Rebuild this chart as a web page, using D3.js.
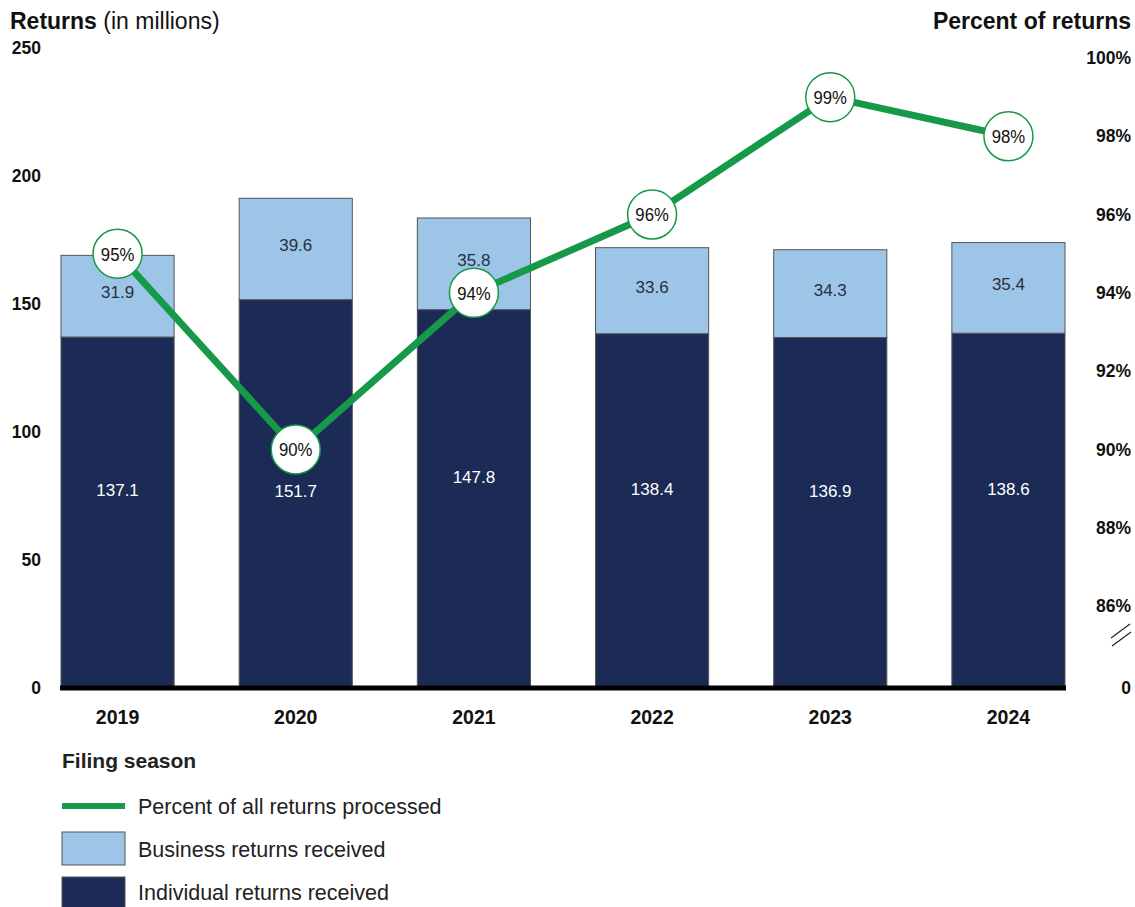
<!DOCTYPE html>
<html>
<head>
<meta charset="utf-8">
<script src="https://cdn.jsdelivr.net/npm/d3@7"></script>
<style>
  html, body { margin: 0; padding: 0; background: #ffffff; }
  svg { display: block; font-family: "Liberation Sans", Arial, sans-serif; }
</style>
</head>
<body>
<svg id="chart" width="1135" height="907"></svg>
<script>
// Filing season data
const seasons = ["2019", "2020", "2021", "2022", "2023", "2024"];
const individualReturns = [137.1, 151.7, 147.8, 138.4, 136.9, 138.6];
const businessReturns = [31.9, 39.6, 35.8, 33.6, 34.3, 35.4];
const percentProcessed = [95, 90, 94, 96, 99, 98];

const leftTicks = [0, 50, 100, 150, 200, 250];
const rightTicks = [86, 88, 90, 92, 94, 96, 98, 100];

const colors = {
  individual: "#1b2b55",
  business: "#9dc5e8",
  line: "#17994a",
  barStroke: "#555555"
};

const svg = d3.select("#chart");

const x = d3.scaleBand()
  .domain(seasons)
  .range([61, 1065])
  .paddingInner(0.365)
  .paddingOuter(0);

const y = d3.scaleLinear().domain([0, 250]).range([688, 48]);
const yPct = d3.scaleLinear().domain([86, 100]).range([606, 58]);

const cx = s => x(s) + x.bandwidth() / 2;

const rows = seasons.map((s, i) => ({
  season: s,
  ind: individualReturns[i],
  bus: businessReturns[i],
  pct: percentProcessed[i]
}));

// Stacked bars
const bars = svg.append("g");
bars.selectAll("rect.ind").data(rows).join("rect")
  .attr("x", d => x(d.season))
  .attr("width", x.bandwidth())
  .attr("y", d => y(d.ind))
  .attr("height", d => y(0) - y(d.ind))
  .attr("fill", colors.individual)
  .attr("stroke", colors.barStroke)
  .attr("stroke-width", 1);

bars.selectAll("rect.bus").data(rows).join("rect")
  .attr("x", d => x(d.season))
  .attr("width", x.bandwidth())
  .attr("y", d => y(d.ind + d.bus))
  .attr("height", d => y(d.ind) - y(d.ind + d.bus))
  .attr("fill", colors.business)
  .attr("stroke", colors.barStroke)
  .attr("stroke-width", 1);

// Individual labels sit in the lower part of the bar, stepping below a marker if they would meet it
function indLabelY(d) {
  const base = y(d.ind / 2) - 22;
  const my = yPct(d.pct);
  return Math.abs(base - my) < 38 ? my + 42 : base;
}

bars.selectAll("text.ind").data(rows).join("text")
  .attr("x", d => cx(d.season))
  .attr("y", indLabelY)
  .attr("dy", "0.35em")
  .attr("text-anchor", "middle")
  .attr("font-size", 17)
  .attr("fill", "#ffffff")
  .text(d => d.ind.toFixed(1));

bars.selectAll("text.bus").data(rows).join("text")
  .attr("x", d => cx(d.season))
  .attr("y", d => y(d.ind + d.bus / 2) - 4)
  .attr("dy", "0.35em")
  .attr("text-anchor", "middle")
  .attr("font-size", 17)
  .attr("fill", "#2a2f3d")
  .text(d => d.bus.toFixed(1));

// Baseline
svg.append("line")
  .attr("x1", 60).attr("x2", 1066)
  .attr("y1", y(0)).attr("y2", y(0))
  .attr("stroke", "#000").attr("stroke-width", 5);

// Left axis labels
svg.append("g").selectAll("text").data(leftTicks).join("text")
  .attr("x", 41)
  .attr("y", d => y(d))
  .attr("dy", "0.35em")
  .attr("text-anchor", "end")
  .attr("font-size", 17.5)
  .attr("font-weight", "bold")
  .attr("fill", "#111")
  .text(d => d);

// Right axis labels
const rightAxis = svg.append("g");
rightAxis.selectAll("text").data(rightTicks).join("text")
  .attr("x", 1131)
  .attr("y", d => yPct(d))
  .attr("dy", "0.35em")
  .attr("text-anchor", "end")
  .attr("font-size", 17.5)
  .attr("font-weight", "bold")
  .attr("fill", "#111")
  .text(d => d + "%");
rightAxis.append("text")
  .attr("x", 1131).attr("y", y(0))
  .attr("dy", "0.35em")
  .attr("text-anchor", "end")
  .attr("font-size", 17.5)
  .attr("font-weight", "bold")
  .attr("fill", "#111")
  .text("0");
// Axis break mark
const brk = rightAxis.append("g").attr("stroke", "#222").attr("stroke-width", 1.2);
brk.append("line").attr("x1", 1111).attr("y1", 638).attr("x2", 1130).attr("y2", 624);
brk.append("line").attr("x1", 1112).attr("y1", 646).attr("x2", 1131).attr("y2", 632);

// X axis labels
svg.append("g").selectAll("text").data(seasons).join("text")
  .attr("x", d => cx(d))
  .attr("y", 717)
  .attr("dy", "0.35em")
  .attr("text-anchor", "middle")
  .attr("font-size", 19.5)
  .attr("font-weight", "bold")
  .attr("fill", "#111")
  .text(d => d);

// Percent processed line
const lineGen = d3.line()
  .x(d => cx(d.season))
  .y(d => yPct(d.pct));

svg.append("path")
  .datum(rows)
  .attr("d", lineGen)
  .attr("fill", "none")
  .attr("stroke", colors.line)
  .attr("stroke-width", 7);

const markers = svg.append("g").selectAll("g").data(rows).join("g")
  .attr("transform", d => `translate(${cx(d.season)},${yPct(d.pct)})`);
markers.append("circle")
  .attr("r", 24.5)
  .attr("fill", "#fff")
  .attr("stroke", colors.line)
  .attr("stroke-width", 1.5);
markers.append("text")
  .attr("dy", "0.36em")
  .attr("text-anchor", "middle")
  .attr("transform", "scale(0.88,1)")
  .attr("font-size", 19)
  .attr("fill", "#111")
  .text(d => d.pct + "%");

// Titles
const leftTitle = svg.append("text")
  .attr("x", 10).attr("y", 29)
  .attr("font-size", 23)
  .attr("fill", "#111");
leftTitle.append("tspan").attr("font-weight", "bold").text("Returns");
leftTitle.append("tspan").text(" (in millions)");

svg.append("text")
  .attr("x", 1131).attr("y", 29)
  .attr("text-anchor", "end")
  .attr("font-size", 23)
  .attr("font-weight", "bold")
  .attr("fill", "#111")
  .text("Percent of returns");

// Legend
const legend = svg.append("g");
legend.append("text")
  .attr("x", 62).attr("y", 761)
  .attr("dy", "0.35em")
  .attr("font-size", 21)
  .attr("font-weight", "bold")
  .attr("fill", "#222")
  .text("Filing season");

legend.append("line")
  .attr("x1", 62).attr("x2", 125)
  .attr("y1", 806).attr("y2", 806)
  .attr("stroke", colors.line).attr("stroke-width", 6);
legend.append("text")
  .attr("x", 138).attr("y", 806).attr("dy", "0.35em")
  .attr("font-size", 21.5).attr("fill", "#222")
  .text("Percent of all returns processed");

legend.append("rect")
  .attr("x", 62).attr("y", 832).attr("width", 63).attr("height", 33)
  .attr("fill", colors.business).attr("stroke", colors.barStroke);
legend.append("text")
  .attr("x", 138).attr("y", 849).attr("dy", "0.35em")
  .attr("font-size", 21.5).attr("fill", "#222")
  .text("Business returns received");

legend.append("rect")
  .attr("x", 62).attr("y", 877).attr("width", 63).attr("height", 33)
  .attr("fill", colors.individual).attr("stroke", colors.barStroke);
legend.append("text")
  .attr("x", 138).attr("y", 892).attr("dy", "0.35em")
  .attr("font-size", 21.5).attr("fill", "#222")
  .text("Individual returns received");
</script>
</body>
</html>
